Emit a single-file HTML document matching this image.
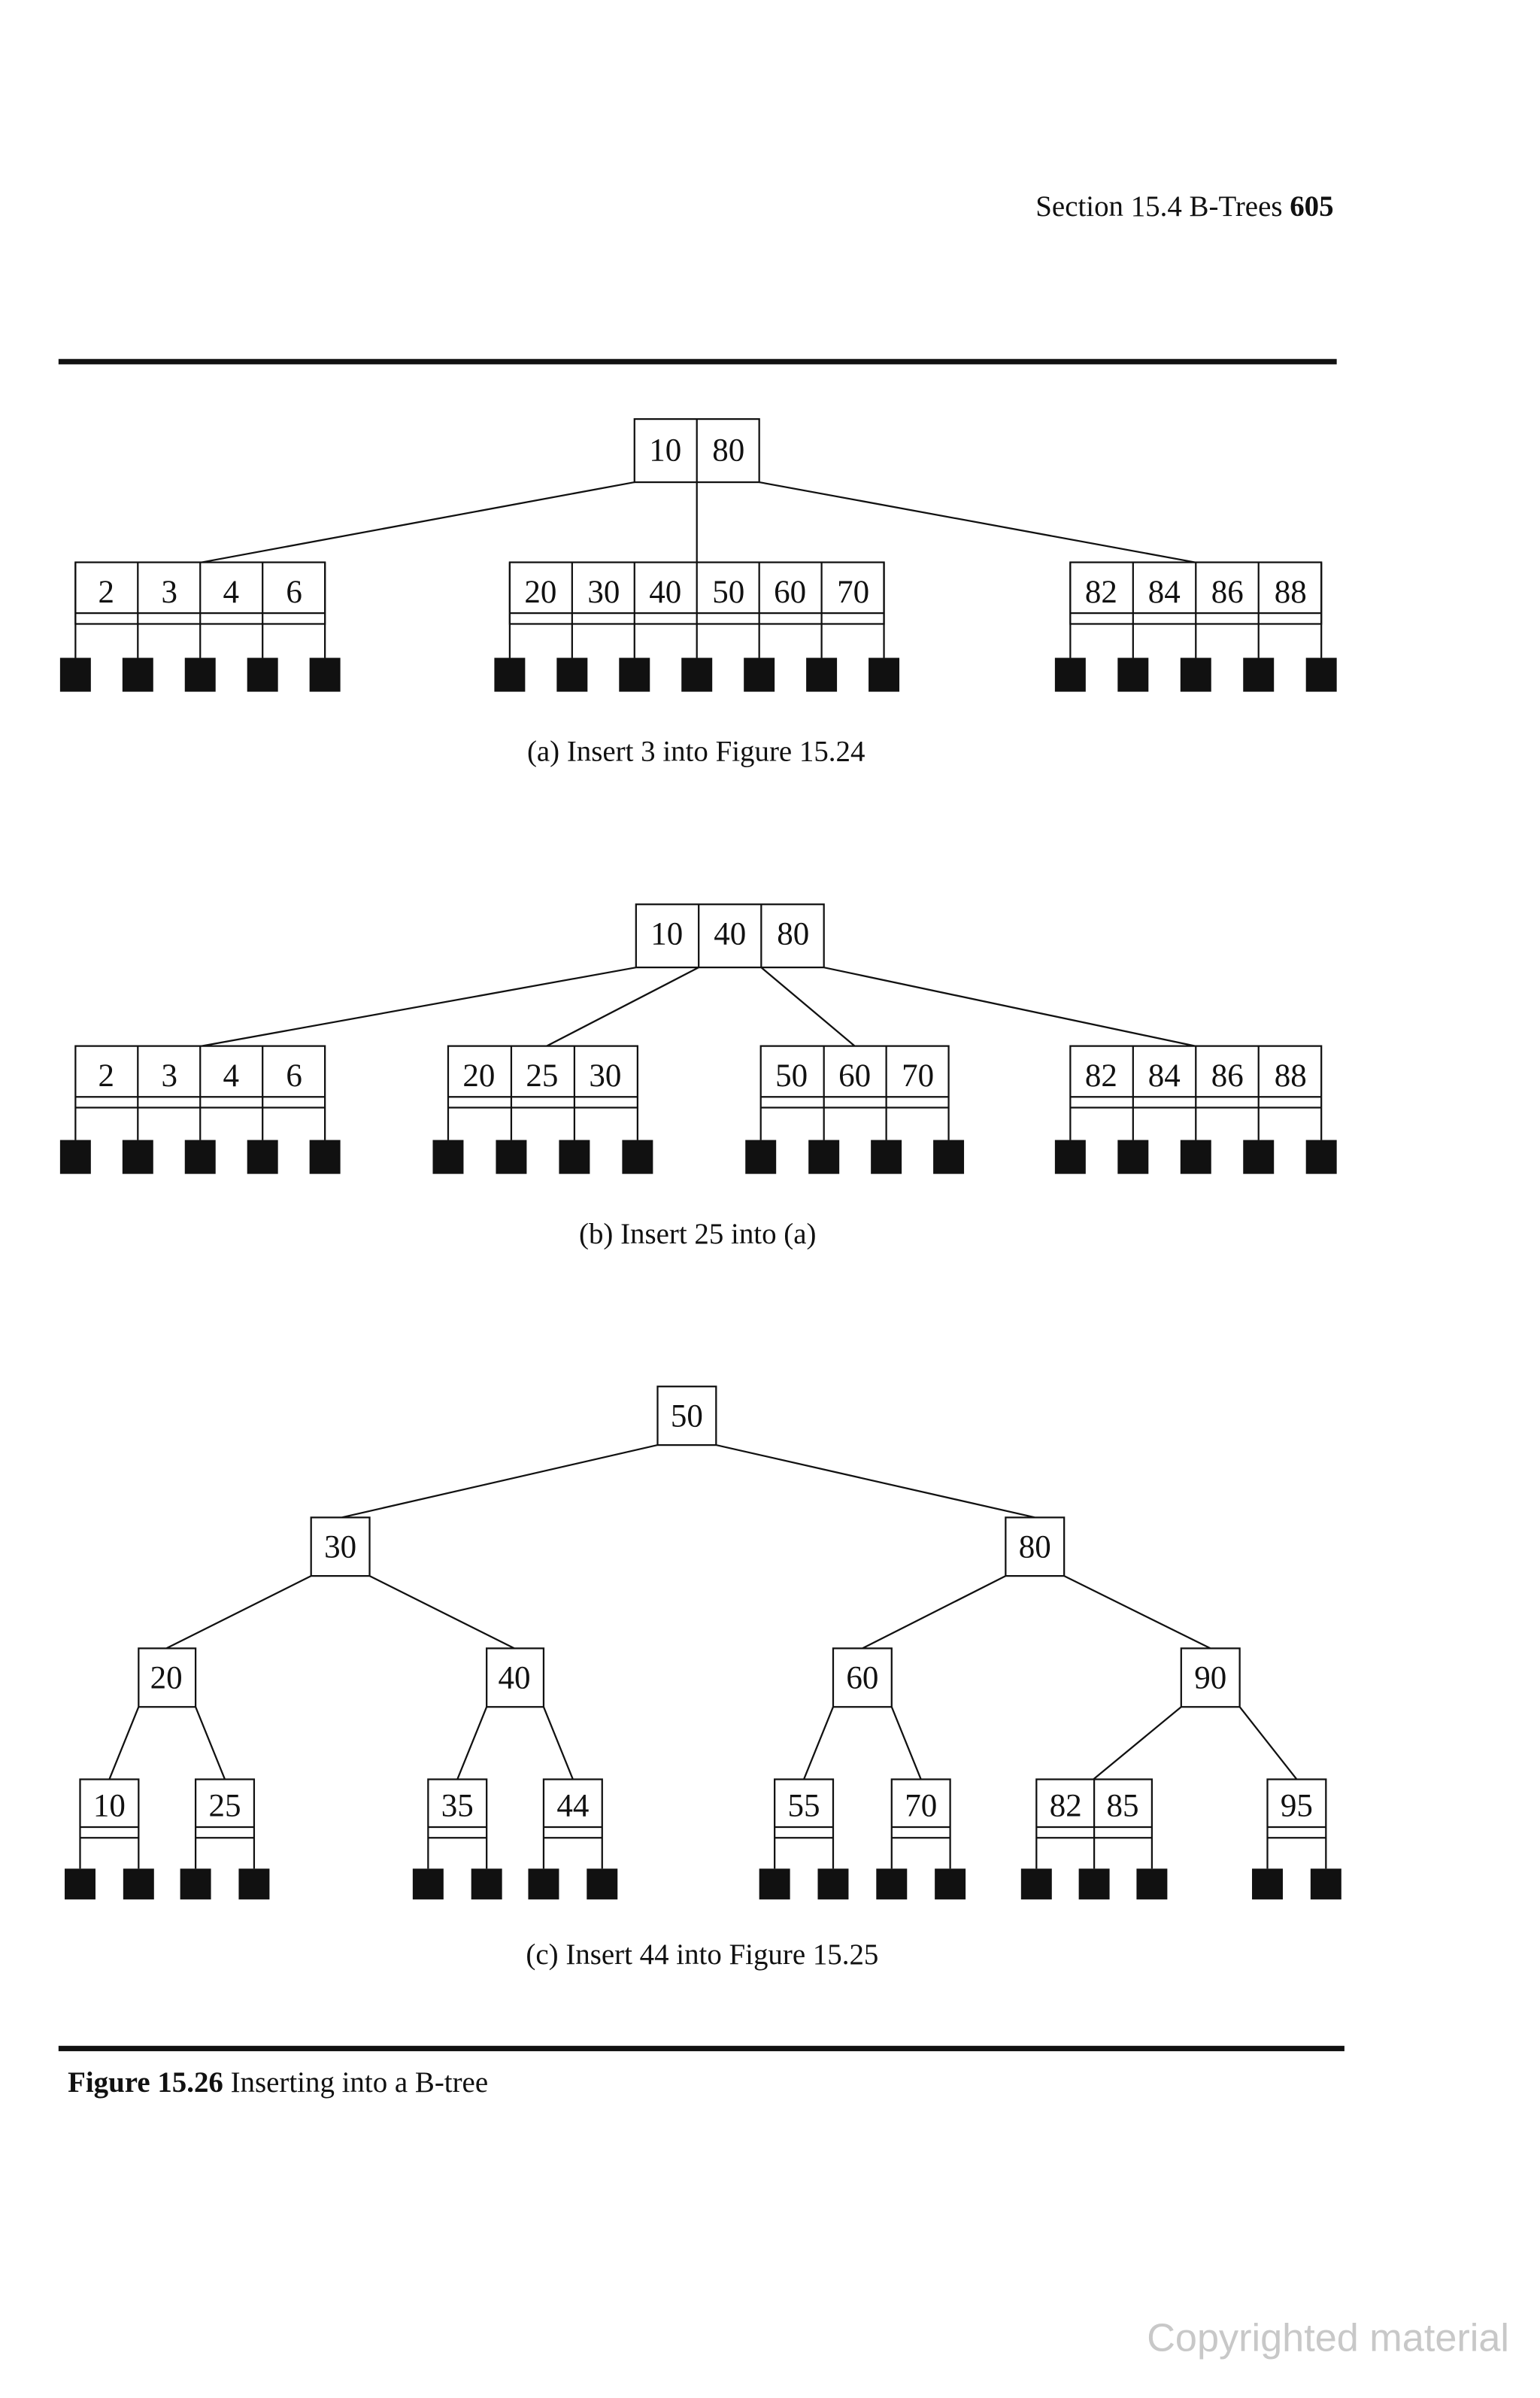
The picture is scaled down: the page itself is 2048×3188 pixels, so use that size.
<!DOCTYPE html>
<html><head><meta charset="utf-8"><style>
html,body{margin:0;padding:0;background:#fff}
svg{display:block}
text{font-family:"Liberation Serif",serif;fill:#111}
</style></head><body>
<svg width="2048" height="3188" viewBox="0 0 1000 1556.6" xmlns="http://www.w3.org/2000/svg">
<g stroke="#111" stroke-width="1.1" fill="none">
<rect x="38" y="233" width="830" height="3.5" fill="#111" stroke="none"/>
<rect x="38" y="1328" width="835" height="3.5" fill="#111" stroke="none"/>
<rect x="412" y="272" width="81" height="41"/><line x1="452.5" y1="272" x2="452.5" y2="313"/>
<line x1="452.5" y1="313" x2="452.5" y2="365"/>
<line x1="412" y1="313" x2="131" y2="365"/>
<line x1="493" y1="313" x2="776" y2="365"/>
<rect x="49" y="365" width="162" height="40"/>
<rect x="331" y="365" width="243" height="40"/>
<rect x="695" y="365" width="163" height="40"/>
</g>
<g stroke="#111" stroke-width="1.1">
<path d="M49 365V427M89.5 365V427M130 365V427M170.5 365V427M211 365V427
M331 365V427M371.5 365V427M412 365V427M452.5 365V427M493 365V427M533.5 365V427M574 365V427
M695 365V427M735.75 365V427M776.5 365V427M817.25 365V427M858 365V427
M49 398H211M331 398H574M695 398H858"/>
<path fill="none" d="M413 587H535V628H413ZM453.7 587V628M494.3 587V628
M413 628L131 679M453.7 628L355 679M494.3 628L555 679M535 628L776 679
M49 679H211V719H49ZM291 679H414V719H291ZM494 679H616V719H494ZM695 679H858V719H695Z
M49 679V740M89.5 679V740M130 679V740M170.5 679V740M211 679V740
M291 679V740M332 679V740M373 679V740M414 679V740
M494 679V740M535 679V740M575.5 679V740M616 679V740
M695 679V740M735.75 679V740M776.5 679V740M817.25 679V740M858 679V740
M49 712H211M291 712H414M494 712H616M695 712H858"/>
<path fill="none" d="M427 900H465V938H427ZM202 985H240V1023H202ZM653 985H691V1023H653Z
M90 1070H127V1108H90ZM316 1070H353V1108H316ZM541 1070H579V1108H541ZM767 1070H805V1108H767Z
M52 1155H90V1193H52ZM127 1155H165V1193H127ZM278 1155H316V1193H278ZM353 1155H391V1193H353Z
M503 1155H541V1193H503ZM579 1155H617V1193H579ZM673 1155H748V1193H673ZM710.5 1155V1193M823 1155H861V1193H823Z
M427 938L222 985M465 938L672 985
M202 1023L108 1070M240 1023L334 1070M653 1023L560 1070M691 1023L786 1070
M90 1108L71 1155M127 1108L146 1155M316 1108L297 1155M353 1108L372 1155
M541 1108L522 1155M579 1108L598 1155M767 1108L710 1155M805 1108L842 1155
M52 1193V1213M90 1193V1213M127 1193V1213M165 1193V1213M278 1193V1213M316 1193V1213M353 1193V1213M391 1193V1213
M503 1193V1213M541 1193V1213M579 1193V1213M617 1193V1213M673 1193V1213M710.5 1193V1213M748 1193V1213M823 1193V1213M861 1193V1213
M52 1186H90M127 1186H165M278 1186H316M353 1186H391M503 1186H541M579 1186H617M673 1186H748M823 1186H861"/>
</g>
<g fill="#111">
<g transform="translate(-10,427)">
<rect x="49" width="20" height="22"/><rect x="89.5" width="20" height="22"/><rect x="130" width="20" height="22"/><rect x="170.5" width="20" height="22"/><rect x="211" width="20" height="22"/>
<rect x="331" width="20" height="22"/><rect x="371.5" width="20" height="22"/><rect x="412" width="20" height="22"/><rect x="452.5" width="20" height="22"/><rect x="493" width="20" height="22"/><rect x="533.5" width="20" height="22"/><rect x="574" width="20" height="22"/>
<rect x="695" width="20" height="22"/><rect x="735.75" width="20" height="22"/><rect x="776.5" width="20" height="22"/><rect x="817.25" width="20" height="22"/><rect x="858" width="20" height="22"/>
</g>
<g transform="translate(-10,740)">
<rect x="49" width="20" height="22"/><rect x="89.5" width="20" height="22"/><rect x="130" width="20" height="22"/><rect x="170.5" width="20" height="22"/><rect x="211" width="20" height="22"/>
<rect x="291" width="20" height="22"/><rect x="332" width="20" height="22"/><rect x="373" width="20" height="22"/><rect x="414" width="20" height="22"/>
<rect x="494" width="20" height="22"/><rect x="535" width="20" height="22"/><rect x="575.5" width="20" height="22"/><rect x="616" width="20" height="22"/>
<rect x="695" width="20" height="22"/><rect x="735.75" width="20" height="22"/><rect x="776.5" width="20" height="22"/><rect x="817.25" width="20" height="22"/><rect x="858" width="20" height="22"/>
</g>
<g transform="translate(-10,1213)">
<rect x="52" width="20" height="20"/><rect x="90" width="20" height="20"/><rect x="127" width="20" height="20"/><rect x="165" width="20" height="20"/>
<rect x="278" width="20" height="20"/><rect x="316" width="20" height="20"/><rect x="353" width="20" height="20"/><rect x="391" width="20" height="20"/>
<rect x="503" width="20" height="20"/><rect x="541" width="20" height="20"/><rect x="579" width="20" height="20"/><rect x="617" width="20" height="20"/>
<rect x="673" width="20" height="20"/><rect x="710.5" width="20" height="20"/><rect x="748" width="20" height="20"/>
<rect x="823" width="20" height="20"/><rect x="861" width="20" height="20"/>
</g>
</g>
<g font-size="21" text-anchor="middle">
<text x="432" y="299">10</text><text x="473" y="299">80</text>
<text x="69" y="391">2</text><text x="110" y="391">3</text><text x="150" y="391">4</text><text x="191" y="391">6</text>
<text x="351" y="391">20</text><text x="392" y="391">30</text><text x="432" y="391">40</text><text x="473" y="391">50</text><text x="513" y="391">60</text><text x="554" y="391">70</text>
<text x="715" y="391">82</text><text x="756" y="391">84</text><text x="797" y="391">86</text><text x="838" y="391">88</text>
<text x="433" y="613">10</text><text x="474" y="613">40</text><text x="515" y="613">80</text>
<text x="69" y="705">2</text><text x="110" y="705">3</text><text x="150" y="705">4</text><text x="191" y="705">6</text>
<text x="311" y="705">20</text><text x="352" y="705">25</text><text x="393" y="705">30</text>
<text x="514" y="705">50</text><text x="555" y="705">60</text><text x="596" y="705">70</text>
<text x="715" y="705">82</text><text x="756" y="705">84</text><text x="797" y="705">86</text><text x="838" y="705">88</text>
<text x="446" y="926">50</text><text x="221" y="1011">30</text><text x="672" y="1011">80</text>
<text x="108" y="1096">20</text><text x="334" y="1096">40</text><text x="560" y="1096">60</text><text x="786" y="1096">90</text>
<text x="71" y="1179">10</text><text x="146" y="1179">25</text><text x="297" y="1179">35</text><text x="372" y="1179">44</text>
<text x="522" y="1179">55</text><text x="598" y="1179">70</text><text x="692" y="1179">82</text><text x="729" y="1179">85</text><text x="842" y="1179">95</text>
</g>
<g font-size="19">
<text x="866" y="140" text-anchor="end">Section 15.4 B-Trees <tspan font-weight="bold">605</tspan></text>
<text x="452" y="494" text-anchor="middle">(a) Insert 3 into Figure 15.24</text>
<text x="453" y="807" text-anchor="middle">(b) Insert 25 into (a)</text>
<text x="456" y="1275" text-anchor="middle">(c) Insert 44 into Figure 15.25</text>
<text x="44" y="1358"><tspan font-weight="bold">Figure 15.26</tspan> Inserting into a B-tree</text>
</g>
<text x="980" y="1526" text-anchor="end" font-size="25.5" style="font-family:'Liberation Sans',sans-serif;fill:#c8c8c8">Copyrighted material</text>
</svg>
</body></html>
